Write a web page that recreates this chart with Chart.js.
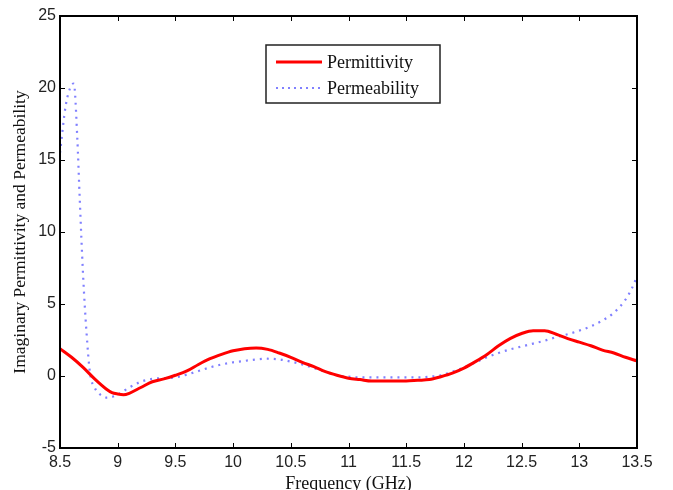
<!DOCTYPE html>
<html>
<head>
<meta charset="utf-8">
<script src="https://cdn.jsdelivr.net/npm/chart.js@4"></script>
<style>
  html, body { margin: 0; padding: 0; background: #fff; }
  #wrap { width: 673px; height: 490px; }
</style>
</head>
<body>
<div id="wrap"><canvas id="epsChart" width="673" height="490"></canvas></div>
<script>
// Частота, ГГц
const freqEps = [8.5, 8.6, 8.7, 8.8, 8.9, 8.95, 9.0, 9.05, 9.1, 9.2, 9.3, 9.4, 9.5, 9.6, 9.7, 9.8, 9.9, 10.0, 10.1, 10.2, 10.3, 10.4, 10.5, 10.6, 10.7, 10.8, 10.9, 11.0, 11.1, 11.2, 11.3, 11.4, 11.5, 11.6, 11.7, 11.8, 11.9, 12.0, 12.1, 12.2, 12.3, 12.4, 12.5, 12.6, 12.7, 12.8, 12.9, 13.0, 13.1, 13.2, 13.3, 13.4, 13.5];
const permittivity = [1.9, 1.3, 0.6, -0.2, -0.9, -1.15, -1.25, -1.3, -1.2, -0.8, -0.4, -0.2, 0.05, 0.35, 0.8, 1.2, 1.5, 1.75, 1.9, 1.95, 1.85, 1.6, 1.3, 0.95, 0.65, 0.3, 0.05, -0.15, -0.25, -0.35, -0.35, -0.35, -0.35, -0.3, -0.25, -0.05, 0.2, 0.55, 1.0, 1.5, 2.1, 2.6, 2.95, 3.15, 3.15, 2.9, 2.6, 2.35, 2.1, 1.8, 1.6, 1.3, 1.05];

const freqMu = [8.5, 8.55, 8.6, 8.62, 8.65, 8.67, 8.7, 8.73, 8.76, 8.8, 8.85, 8.9, 8.95, 9.0, 9.1, 9.2, 9.3, 9.4, 9.5, 9.6, 9.7, 9.8, 9.9, 10.0, 10.1, 10.2, 10.3, 10.4, 10.5, 10.6, 10.7, 10.8, 10.9, 11.0, 11.1, 11.2, 11.3, 11.4, 11.5, 11.6, 11.7, 11.8, 11.9, 12.0, 12.1, 12.2, 12.3, 12.4, 12.5, 12.6, 12.7, 12.8, 12.9, 13.0, 13.1, 13.2, 13.3, 13.4, 13.45, 13.5];
const permeability = [15.5, 18.8, 20.2, 20.3, 16.5, 12.5, 7.0, 3.0, 0.2, -0.8, -1.3, -1.5, -1.45, -1.3, -0.8, -0.4, -0.2, -0.15, -0.1, 0.1, 0.35, 0.6, 0.8, 0.95, 1.05, 1.15, 1.2, 1.15, 1.0, 0.8, 0.55, 0.3, 0.05, -0.05, -0.1, -0.1, -0.1, -0.1, -0.1, -0.1, -0.05, 0.05, 0.3, 0.6, 0.95, 1.3, 1.6, 1.85, 2.05, 2.25, 2.45, 2.7, 2.9, 3.15, 3.45, 3.85, 4.4, 5.3, 6.0, 6.9];

const xTicksMin = 8.5, xTicksMax = 13.5, xStep = 0.5;
const yTicksMin = -5, yTicksMax = 25, yStep = 5;

function toPoints(xs, ys) {
    return xs.map((x, i) => ({ x: x, y: ys[i] }));
}

// Рамка, внутренние засечки и легенда как в MATLAB
const matlabFrame = {
    id: 'matlabFrame',
    afterDraw(chart) {
        const { ctx, chartArea: a, scales } = chart;
        ctx.save();
        ctx.strokeStyle = '#000';
        ctx.lineWidth = 2;
        ctx.strokeRect(a.left, a.top, a.right - a.left, a.bottom - a.top);

        ctx.lineWidth = 1;
        const t = 5;
        ctx.beginPath();
        scales.x.ticks.forEach(tk => {
            const px = Math.round(scales.x.getPixelForValue(tk.value)) + 0.5;
            ctx.moveTo(px, a.bottom); ctx.lineTo(px, a.bottom - t);
            ctx.moveTo(px, a.top); ctx.lineTo(px, a.top + t);
        });
        scales.y.ticks.forEach(tk => {
            const py = Math.round(scales.y.getPixelForValue(tk.value)) + 0.5;
            ctx.moveTo(a.left, py); ctx.lineTo(a.left + t, py);
            ctx.moveTo(a.right, py); ctx.lineTo(a.right - t, py);
        });
        ctx.stroke();

        // легенда
        const bx = 266, by = 45, bw = 174, bh = 58;
        ctx.fillStyle = '#fff';
        ctx.fillRect(bx, by, bw, bh);
        ctx.strokeStyle = '#222';
        ctx.lineWidth = 1.5;
        ctx.strokeRect(bx, by, bw, bh);

        ctx.font = '18px "Liberation Serif", "Times New Roman", serif';
        ctx.textBaseline = 'middle';
        ctx.textAlign = 'left';
        ctx.fillStyle = '#111';

        ctx.strokeStyle = 'red';
        ctx.lineWidth = 3;
        ctx.beginPath();
        ctx.moveTo(276, 62); ctx.lineTo(322, 62);
        ctx.stroke();
        ctx.fillText('Permittivity', 327, 63);

        ctx.strokeStyle = '#8080ff';
        ctx.lineWidth = 2;
        ctx.setLineDash([2, 4]);
        ctx.beginPath();
        ctx.moveTo(276, 88); ctx.lineTo(322, 88);
        ctx.stroke();
        ctx.setLineDash([]);
        ctx.fillText('Permeability', 327, 89);
        ctx.restore();
    }
};

const data = {
    datasets: [{
        label: 'Permittivity',
        data: toPoints(freqEps, permittivity),
        borderColor: 'red',
        borderWidth: 3,
        pointRadius: 0,
        cubicInterpolationMode: 'monotone',
        fill: false
    }, {
        label: 'Permeability',
        data: toPoints(freqMu, permeability),
        borderColor: '#8080ff',
        borderWidth: 2.2,
        borderDash: [2, 5],
        pointRadius: 0,
        cubicInterpolationMode: 'monotone',
        fill: false
    }]
};

const tickFont = { family: '"Liberation Sans", Arial, sans-serif', size: 16 };

const options = {
    responsive: false,
    animation: false,
    layout: { padding: { top: 16, right: 36, left: 0, bottom: 0 } },
    plugins: {
        legend: { display: false },
        tooltip: { enabled: false }
    },
    scales: {
        x: {
            type: 'linear',
            min: xTicksMin,
            max: xTicksMax,
            ticks: {
                stepSize: xStep, color: '#222', font: tickFont, padding: 5, maxRotation: 0,
                callback: v => String(v)
            },
            grid: { display: false, drawTicks: false },
            border: { display: false },
            title: {
                display: true, text: 'Frequency (GHz)', color: '#111',
                font: { family: '"Liberation Serif", "Times New Roman", serif', size: 18 },
                padding: { top: 0, bottom: -5 }
            },
            afterFit(scale) { scale.height = 42; }
        },
        y: {
            min: yTicksMin,
            max: yTicksMax,
            ticks: { stepSize: yStep, color: '#222', font: tickFont, padding: 4 },
            grid: { display: false, drawTicks: false },
            border: { display: false },
            title: {
                display: true, text: 'Imaginary Permittivity and Permeability', color: '#111',
                font: { family: '"Liberation Serif", "Times New Roman", serif', size: 17.5 },
                padding: { top: 10, bottom: 4 }
            },
            afterFit(scale) { scale.width = 60; }
        }
    }
};

window.onload = function() {
    const ctx = document.getElementById('epsChart').getContext('2d');
    new Chart(ctx, {
        type: 'line',
        data: data,
        options: options,
        plugins: [matlabFrame]
    });
};
</script>
</body>
</html>
